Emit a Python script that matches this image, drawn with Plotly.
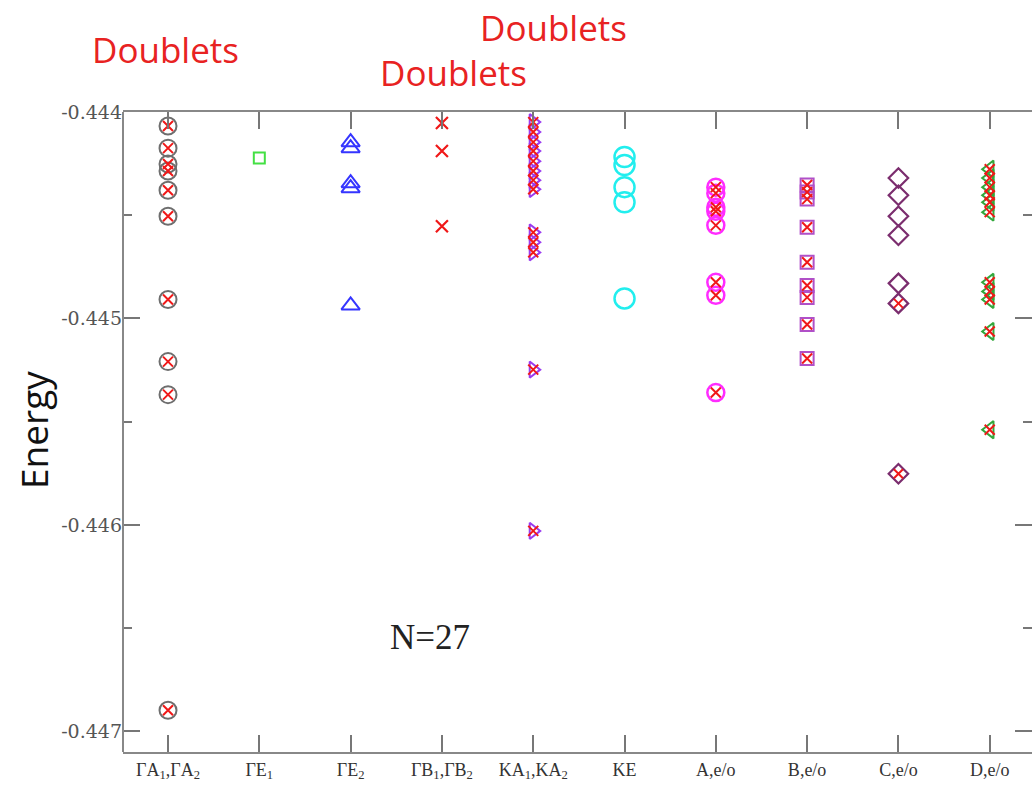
import plotly.graph_objects as go

# Symmetry sectors along the x axis
categories = ["ΓA<sub>1</sub>,ΓA<sub>2</sub>", "ΓE<sub>1</sub>", "ΓE<sub>2</sub>",
              "ΓB<sub>1</sub>,ΓB<sub>2</sub>", "KA<sub>1</sub>,KA<sub>2</sub>", "KE",
              "A,e/o", "B,e/o", "C,e/o", "D,e/o"]

y_tick_vals = [-0.444, -0.445, -0.446, -0.447]
y_tick_text = ["-0.444", "-0.445", "-0.446", "-0.447"]

# Energy levels per sector
gA = [-0.444068, -0.444175, -0.444252, -0.444286, -0.444379, -0.444505,
      -0.444908, -0.445209, -0.445369, -0.446898]
gE1 = [-0.444223]
gE2 = [-0.444146, -0.444175, -0.444345, -0.444369, -0.444937]
gB = [-0.444053, -0.444189, -0.444553]
kA = [-0.444049, -0.444097, -0.444146, -0.444189, -0.444238, -0.444286,
      -0.444330, -0.444374, -0.444583, -0.444631, -0.444680, -0.445248, -0.446029]
kE = [-0.444218, -0.444257, -0.444364, -0.444437, -0.444903]
a_eo = [-0.444364, -0.444393, -0.444461, -0.444481, -0.444549,
        -0.444825, -0.444888, -0.445359]
b_eo = [-0.444354, -0.444388, -0.444422, -0.444558, -0.444728,
        -0.444840, -0.444898, -0.445029, -0.445194]
c_eo = [-0.444320, -0.444403, -0.444505, -0.444597, -0.444830, -0.444927, -0.445752]
c_eo_cross = [-0.444927, -0.445752]
d_eo = [-0.444277, -0.444320, -0.444364, -0.444403, -0.444437, -0.444485,
        -0.444825, -0.444869, -0.444908, -0.445063, -0.445539]

RED = "#f01818"
AXIS = "#888"

fig = go.Figure()


def add(pos, vals, symbol, color, size, width=2.0):
    fig.add_trace(go.Scatter(
        x=[pos] * len(vals), y=vals, mode="markers", showlegend=False,
        marker=dict(symbol=symbol, size=size, color=color,
                    line=dict(color=color, width=width)),
    ))


# first sector: open circles overlaid with crosses
add(1, gA, "circle-open", "#6e6e6e", 17, 2)
add(1, gA, "x-thin-open", RED, 10, 2)
add(2, gE1, "square-open", "#44e044", 11, 2)
add(3, gE2, "triangle-up-open", "#3535ff", 16, 2)
add(4, gB, "x-thin-open", RED, 12, 2.2)
add(5, kA, "triangle-right-open", "#9a3cf0", 14, 2)
add(5, kA, "x-thin-open", RED, 10, 2)
add(6, kE, "circle-open", "#22eeee", 20, 2.5)
add(7, a_eo, "circle-open", "#ff2cff", 17, 2.5)
add(7, a_eo, "x-thin-open", RED, 10, 2)
add(8, b_eo, "square-open", "#b050c8", 13, 2)
add(8, b_eo, "x-thin-open", RED, 10, 2)
add(9, c_eo, "diamond-open", "#7b2d6e", 15, 2.2)
add(9, c_eo_cross, "x-thin-open", RED, 9, 2)
add(10, d_eo, "triangle-left-open", "#32a83c", 15, 2)
add(10, d_eo, "x-thin-open", RED, 10, 2)

x_tick_font = dict(family="Liberation Serif", size=18, color="#333")
y_tick_font = dict(family="DejaVu Serif", size=19, color="#555")

fig.update_xaxes(
    range=[0.507, 10.463], tickmode="array", tickvals=list(range(1, 11)),
    ticktext=categories, ticks="inside", ticklen=17, tickwidth=2,
    tickcolor="#777", showline=True, linecolor=AXIS, linewidth=2,
    mirror="ticks", showgrid=False, zeroline=False, tickfont=x_tick_font,
)
# the right-hand frame edge lies just past the page, so only its ticks show
fig.update_yaxes(
    range=[-0.4471, -0.444], tickmode="array", tickvals=y_tick_vals,
    ticktext=y_tick_text, ticks="inside", ticklen=17, tickwidth=2,
    tickcolor="#777", showline=False,
    mirror="ticks", showgrid=False, zeroline=False, tickfont=y_tick_font,
    minor=dict(ticks="inside", ticklen=9, tickwidth=2, tickcolor="#777",
               dtick=0.0005, tick0=-0.444, showgrid=False),
)
fig.add_shape(type="line", xref="paper", yref="paper", x0=0, x1=0, y0=0, y1=1,
              line=dict(color=AXIS, width=2), layer="above")

doublet_font = dict(family="Open Sans", size=35, color="#e82222")
annotations = [
    dict(text="Doublets", x=(165 - 123) / 909, y=(752 - 50) / 640),
    dict(text="Doublets", x=(553 - 123) / 909, y=(752 - 27) / 640),
    dict(text="Doublets", x=(453 - 123) / 909, y=(752 - 73) / 640),
]
for a in annotations:
    fig.add_annotation(xref="paper", yref="paper", showarrow=False,
                       xanchor="center", yanchor="middle", font=doublet_font, **a)

fig.add_annotation(text="Energy", xref="paper", yref="paper",
                   x=(33 - 123) / 909, y=(752 - 430) / 640, textangle=-90,
                   showarrow=False, xanchor="center", yanchor="middle",
                   font=dict(family="Open Sans", size=37, color="#111"))
fig.add_annotation(text="N=27", xref="paper", yref="paper",
                   x=(430 - 123) / 909, y=(752 - 637) / 640,
                   showarrow=False, xanchor="center", yanchor="middle",
                   font=dict(family="Liberation Serif", size=35, color="#222"))

fig.update_layout(
    width=1032, height=789,
    margin=dict(l=123, r=0, t=112, b=37),
    paper_bgcolor="white", plot_bgcolor="white",
)

fig.write_html("out.html")
